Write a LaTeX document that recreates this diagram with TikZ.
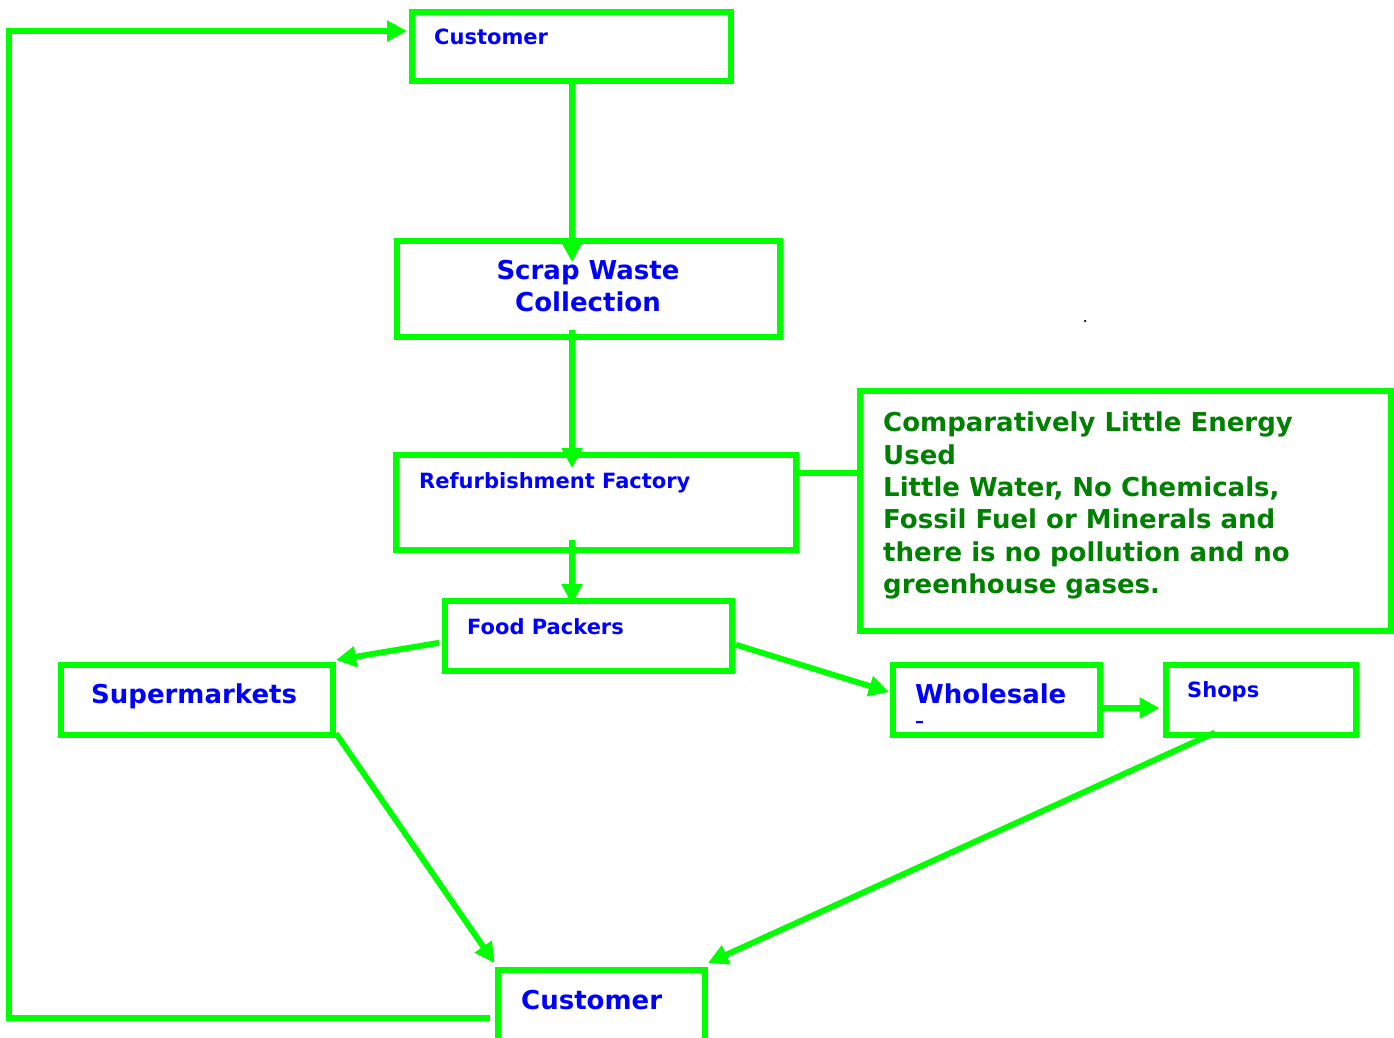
\documentclass[tikz,border=0pt]{standalone}
\usepackage{fontspec}
\setmainfont{DejaVu Sans}
\usetikzlibrary{arrows.meta,calc}
\definecolor{lgreen}{RGB}{0,255,0}
\definecolor{tblue}{RGB}{0,0,255}
\definecolor{tgreen}{RGB}{0,128,0}
\begin{document}
\begin{tikzpicture}[x=1pt,y=-1pt,
  box/.style={draw=lgreen, line width=6pt, rectangle, inner sep=0pt, line join=miter},
  conn/.style={draw=lgreen, line width=5.8pt, -{Triangle[length=20pt,width=20pt]}},
  plain/.style={draw=lgreen, line width=5.8pt},
  lbl/.style={text=tblue, inner sep=0pt, anchor=base west, font=\bfseries\fontsize{21}{25}\selectfont},
  big/.style={font=\bfseries\fontsize{26}{32}\selectfont}]
\useasboundingbox (0,0) rectangle (1394,1038);
\clip (0,0) rectangle (1394,1038);
% boxes
\node[box, minimum width=319pt, minimum height=69pt] (c1) at (571.5,46.5) {};
\node[box, minimum width=383pt, minimum height=96pt] (scrap) at (588.5,289) {};
\node[box, minimum width=399.5pt, minimum height=94.5pt] (refurb) at (595.75,502.25) {};
\node[box, minimum width=287pt, minimum height=70.5pt] (food) at (588.5,635.75) {};
\node[box, minimum width=272pt, minimum height=70pt] (super) at (197,699.5) {};
\node[box, minimum width=207pt, minimum height=70pt] (whole) at (996.5,699.5) {};
\node[box, minimum width=190.5pt, minimum height=70pt] (shops) at (1260.75,699.5) {};
\node[box, minimum width=207pt, minimum height=100pt] (c2) at (601,1020) {};
\node[box, minimum width=531pt, minimum height=240pt] (note) at (1125.5,511) {};
\node[circle, fill=black, inner sep=0pt, minimum size=2.5pt] (dot) at (1085,321) {};
% texts
\node[lbl] (t1) at (434,45) {Customer};
\node[lbl,big,anchor=base] (t2a) at (588,279) {Scrap Waste};
\node[lbl,big,anchor=base] (t2b) at (588,311) {Collection};
\node[lbl] (t3) at (419,488) {Refurbishment Factory};
\node[lbl] (t4) at (467,634) {Food Packers};
\node[lbl,big] (t5) at (91,703) {Supermarkets};
\node[lbl,big] (t6) at (915,703) {Wholesale};
\node[lbl, font=\bfseries\fontsize{18}{20}\selectfont] (t6b) at (915,727) {–};
\node[lbl] (t7) at (1187,697) {Shops};
\node[lbl,big] (t8) at (521,1009) {Customer};
\node[text=tgreen, inner sep=0pt, anchor=north west, align=left,
      font=\bfseries\fontsize{26}{32.3}\selectfont] (t9) at (883,412)
  {Comparatively Little Energy\\Used\\Little Water, No Chemicals,\\Fossil Fuel or Minerals and\\there is no pollution and no\\greenhouse gases.};
% connectors
\draw[conn] ($(c1.south)+(0.5,-6)$) -- ($(scrap.north)+(-16.5,24)$);
\draw[conn] ($(scrap.south)+(-16.5,-10)$) -- ($(refurb.north)+(-23.75,16)$);
\draw[conn] ($(refurb.south)+(-23.75,-12.5)$) -- ($(food.north)+(-16.5,6.5)$);
\draw[plain] ($(refurb.east)+(0,-29.25)$) -- ($(note.west)+(0,-38)$);
\draw[conn] ($(food.west)+(-3,7)$) -- ($(super.north east)+(0,-1.5)$);
\draw[conn] ($(food.east)+(1,9)$) -- ($(whole.west)+(-1,-7.5)$);
\draw[conn] ($(whole.east)+(0,8.5)$) -- ($(shops.west)+(-3,8.5)$);
\draw[conn] ($(super.south east)+(0,-4)$) -- ($(c2.north west)+(0,-4)$);
\draw[conn] ($(shops.south)+(-45.75,-5)$) -- ($(c2.north east)+(0.5,-4)$);
\draw[conn, line join=miter] ($(c2.west)+(-4.5,-2)$) -- ++(-481,0) |- ($(c1.west)+(-2,-15.5)$);
\end{tikzpicture}
\end{document}
